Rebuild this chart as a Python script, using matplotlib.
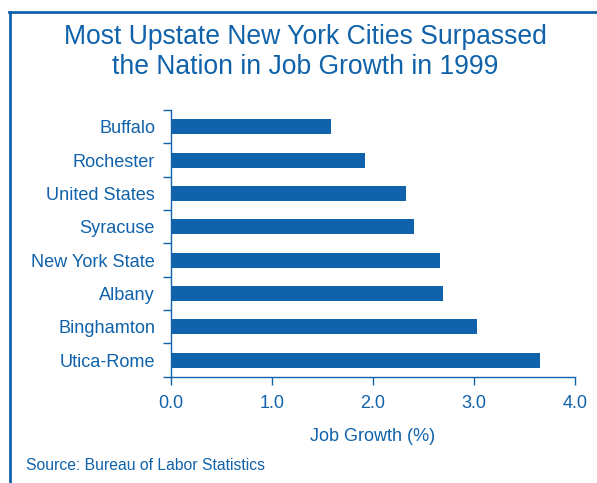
import matplotlib.pyplot as plt
from matplotlib.lines import Line2D
import numpy as np

plt.rcParams['font.family'] = ['Liberation Sans', 'DejaVu Sans']

cities = ["Buffalo", "Rochester", "United States", "Syracuse",
          "New York State", "Albany", "Binghamton", "Utica-Rome"]
growth = [1.58, 1.92, 2.33, 2.41, 2.66, 2.69, 3.03, 3.65]
xticks = [0.0, 1.0, 2.0, 3.0, 4.0]

blue = '#1062aa'
W, H = 597, 483

fig = plt.figure(figsize=(W / 100, H / 100), dpi=100)
ax = fig.add_axes([171 / W, 1 - 376.7 / H, (575 - 171) / W, (376.7 - 110) / H])

y = np.arange(len(cities))
ax.barh(y, growth, height=0.45, color=blue)
ax.set_ylim(len(cities) - 0.5, -0.5)
ax.set_xlim(0, 4)

# category labels centered, ticks at boundaries
ax.set_yticks(y)
ax.set_yticklabels(cities)
ax.tick_params(axis='y', which='major', length=0, pad=11.5, labelsize=13.1, labelcolor=blue)
ax.set_yticks(np.arange(-0.5, len(cities), 1.0), minor=True)
ax.tick_params(axis='y', which='minor', length=6, width=1, color=blue, direction='out')

ax.set_xticks(xticks)
ax.set_xticklabels([f"{v:.1f}" for v in xticks])
ax.tick_params(axis='x', length=6, width=1, color=blue, pad=7, labelsize=13, labelcolor=blue)
ax.set_xlabel("Job Growth (%)", color=blue, fontsize=13, labelpad=12)

for s in ['top', 'right']:
    ax.spines[s].set_visible(False)
for s in ['left', 'bottom']:
    ax.spines[s].set_color(blue)
    ax.spines[s].set_linewidth(1)

fig.text(0.5 * (64 + 547) / W, 1 - 52 / H,
         "Most Upstate New York Cities Surpassed\nthe Nation in Job Growth in 1999",
         ha='center', va='center', color=blue, fontsize=19.1, linespacing=1.18)
fig.text(26 / W, 1 - 465 / H, "Source: Bureau of Labor Statistics",
         ha='left', va='center', color=blue, fontsize=11.35)

# frame: left and top edges
fig.add_artist(Line2D([10 / W, 10 / W], [0, 1 - 12 / H], transform=fig.transFigure,
                      color=blue, lw=2))
fig.add_artist(Line2D([9 / W, 1], [1 - 12 / H, 1 - 12 / H], transform=fig.transFigure,
                      color=blue, lw=2))

fig.savefig("out.png", dpi=100)
